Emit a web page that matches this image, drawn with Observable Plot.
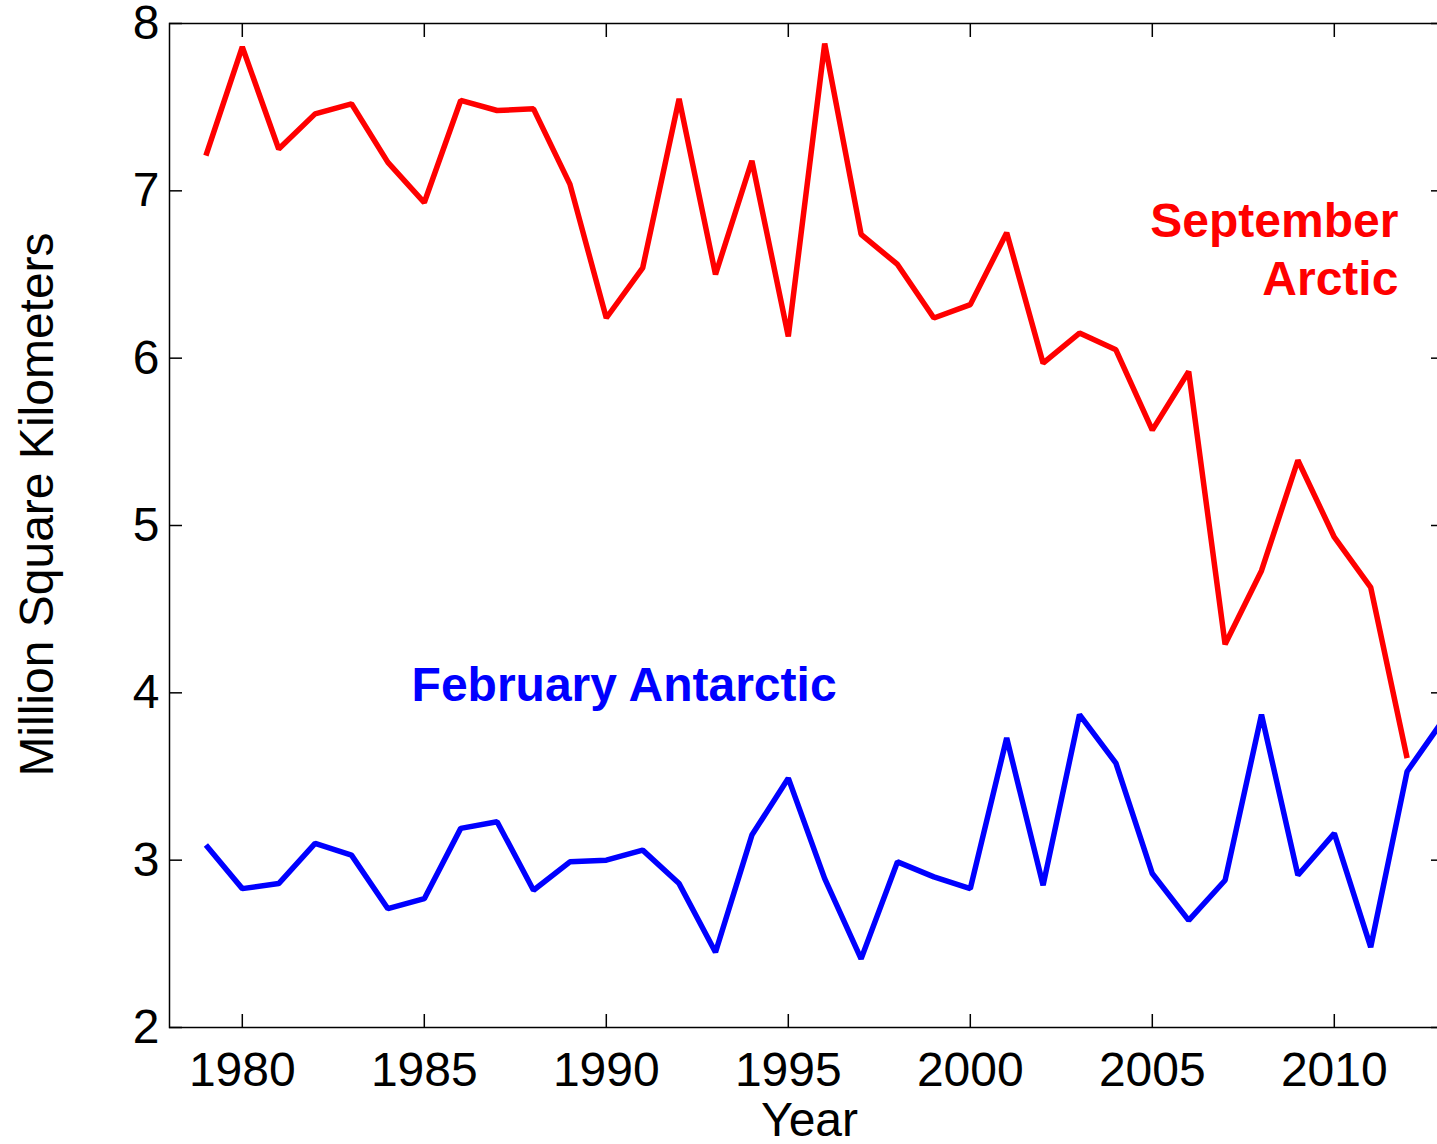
<!DOCTYPE html>
<html>
<head>
<meta charset="utf-8">
<script src="https://cdn.jsdelivr.net/npm/d3@7"></script>
<script src="https://cdn.jsdelivr.net/npm/@observablehq/plot@0.6"></script>
<style>
  html, body { margin: 0; padding: 0; background: #fff; overflow: hidden; }
  #chart svg { display: block; overflow: hidden; }
</style>
</head>
<body>
<div id="chart"></div>
<script>
// ---- data ----
const arcticYears = [1979,1980,1981,1982,1983,1984,1985,1986,1987,1988,1989,1990,1991,1992,1993,1994,1995,1996,1997,1998,1999,2000,2001,2002,2003,2004,2005,2006,2007,2008,2009,2010,2011,2012];
const arcticSeptember = [7.21,7.86,7.25,7.46,7.52,7.17,6.93,7.54,7.48,7.49,7.04,6.24,6.54,7.55,6.50,7.18,6.13,7.88,6.74,6.56,6.24,6.32,6.75,5.97,6.15,6.05,5.57,5.92,4.29,4.73,5.39,4.93,4.63,3.61];
const antarcticYears = [1979,1980,1981,1982,1983,1984,1985,1986,1987,1988,1989,1990,1991,1992,1993,1994,1995,1996,1997,1998,1999,2000,2001,2002,2003,2004,2005,2006,2007,2008,2009,2010,2011,2012,2013];
const antarcticFebruary = [3.09,2.83,2.86,3.10,3.03,2.71,2.77,3.19,3.23,2.82,2.99,3.00,3.06,2.86,2.45,3.15,3.49,2.89,2.41,2.99,2.90,2.83,3.73,2.85,3.87,3.58,2.92,2.64,2.88,3.87,2.91,3.16,2.48,3.53,3.84];
const xTicks = [1980,1985,1990,1995,2000,2005,2010];
const yTicks = [2,3,4,5,6,7,8];
const xLabel = "Year";
const yLabel = "Million Square Kilometers";
const arcticLabel = "September\nArctic";
const antarcticLabel = "February Antarctic";

// ---- tables built from arrays ----
const arctic = arcticYears.map((year, i) => ({year, value: arcticSeptember[i]}));
const antarctic = antarcticYears.map((year, i) => ({year, value: antarcticFebruary[i]}));

const fontFamily = '"Liberation Sans", Arial, Helvetica, sans-serif';
const noText = () => "";

const chart = Plot.plot({
  width: 1437,
  height: 1144,
  marginLeft: 169,
  marginRight: -6,
  marginTop: 23,
  marginBottom: 117,
  style: {fontFamily, fontSize: "48px", color: "black", background: "white", overflow: "hidden"},
  x: {domain: [1978, 2013]},
  y: {domain: [2, 8]},
  marks: [
    // tick labels
    Plot.axisX(xTicks, {anchor: "bottom", tickSize: 0, tickPadding: 24, tickFormat: d => String(d), label: null, fontSize: 48}),
    Plot.axisY(yTicks, {anchor: "left", tickSize: 0, tickPadding: 10, tickFormat: d => String(d), label: null, fontSize: 48}),
    // inward tick marks on all four sides
    Plot.axisX(xTicks, {anchor: "bottom", tickSize: -13, tickFormat: noText, label: null, strokeWidth: 1.5}),
    Plot.axisX(xTicks, {anchor: "top", tickSize: -13, tickFormat: noText, label: null, strokeWidth: 1.5}),
    Plot.axisY(yTicks, {anchor: "left", tickSize: -13, tickFormat: noText, label: null, strokeWidth: 1.5}),
    Plot.axisY(yTicks, {anchor: "right", tickSize: -13, tickFormat: noText, label: null, strokeWidth: 1.5}),
    Plot.frame({stroke: "black", strokeWidth: 1.5}),
    // axis titles
    Plot.text([xLabel], {text: d => d, frameAnchor: "bottom", lineAnchor: "bottom", dy: 108, dx: 3, fontSize: 48, fill: "black"}),
    Plot.text([yLabel], {text: d => d, frameAnchor: "left", rotate: -90, textAnchor: "middle", lineAnchor: "bottom", dx: -117, dy: -21, fontSize: 48, fill: "black"}),
    // series
    Plot.line(arctic, {x: "year", y: "value", stroke: "#ff0000", strokeWidth: 5.5, strokeLinejoin: "miter", strokeLinecap: "butt"}),
    Plot.line(antarctic, {x: "year", y: "value", stroke: "#0000ff", strokeWidth: 5.5, strokeLinejoin: "miter", strokeLinecap: "butt"}),
    // annotations
    Plot.text([arcticLabel], {text: d => d, x: () => 2011.76, y: () => 6.38, textAnchor: "end", lineAnchor: "bottom", lineHeight: 1.19, fill: "#ff0000", fontWeight: "bold", fontSize: 48}),
    Plot.text([antarcticLabel], {text: d => d, x: () => 1984.65, y: () => 3.95, textAnchor: "start", lineAnchor: "bottom", fill: "#0000ff", fontWeight: "bold", fontSize: 48})
  ]
});

document.getElementById("chart").appendChild(chart);
</script>
</body>
</html>
